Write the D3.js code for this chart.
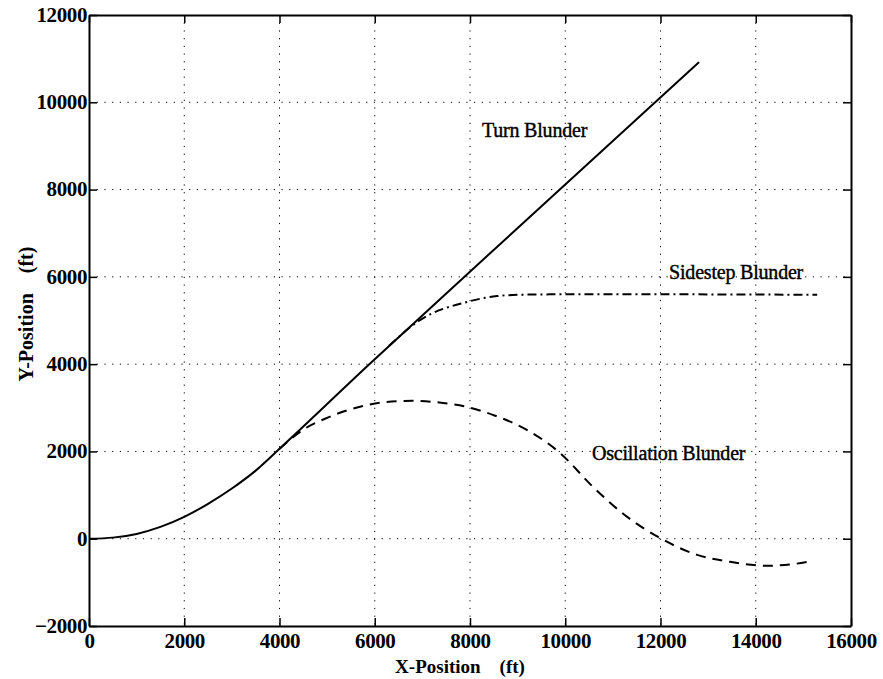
<!DOCTYPE html>
<html>
<head>
<meta charset="utf-8">
<script src="https://cdn.jsdelivr.net/npm/d3@7"></script>
<style>
  body { margin: 0; background: #fff; }
  svg { display: block; }
  text { font-family: "Liberation Serif", "Times New Roman", serif; fill: #000; }
</style>
</head>
<body>
<div id="vis"></div>
<script>
// trajectories (ft)
const turnX = [0, 500, 1000, 1500, 2000, 2500, 3000, 3500, 4000, 5880, 7850, 12810];
const turnY = [0, 25, 110, 270, 500, 800, 1150, 1560, 2060, 3990, 5970, 10920];

const sideX = [6300, 6950, 7935, 8565, 9050, 10000, 12000, 14000, 15290];
const sideY = [4420, 5010, 5425, 5560, 5590, 5600, 5600, 5595, 5590];

const oscX = [4000, 4500, 5000, 5750, 6200, 6800, 7435, 7935, 8500, 9200, 9890, 10580, 11300, 11950, 12770, 13460, 14235, 14720, 15100];
const oscY = [2060, 2500, 2770, 3040, 3130, 3160, 3110, 3020, 2830, 2490, 1965, 1190, 500, 40, -370, -530, -620, -590, -530];

const xTicks = [0, 2000, 4000, 6000, 8000, 10000, 12000, 14000, 16000];
const yTicks = [-2000, 0, 2000, 4000, 6000, 8000, 10000, 12000];

const labels = [
  { text: "Turn Blunder", x: 8250, y: 9200 },
  { text: "Sidestep Blunder", x: 12180, y: 5950 },
  { text: "Oscillation Blunder", x: 10560, y: 1800 }
];

const width = 883, height = 679;
const margin = { top: 15, right: 32, bottom: 53, left: 89 };

const svg = d3.select("#vis").append("svg")
  .attr("width", width)
  .attr("height", height);

const x = d3.scaleLinear().domain([0, 16000]).range([margin.left, width - margin.right]);
const y = d3.scaleLinear().domain([-2000, 12000]).range([height - margin.bottom, margin.top]);

// dotted grid
const grid = svg.append("g");
grid.selectAll(".gx").data(xTicks.slice(1, -1)).enter().append("line")
  .attr("x1", d => x(d)).attr("x2", d => x(d))
  .attr("y1", y(12000)).attr("y2", y(-2000))
  .attr("stroke", "#000").attr("stroke-width", 1)
  .attr("stroke-dasharray", "1.2,6.5");
grid.selectAll(".gy").data(yTicks.slice(1, -1)).enter().append("line")
  .attr("x1", x(0)).attr("x2", x(16000))
  .attr("y1", d => y(d)).attr("y2", d => y(d))
  .attr("stroke", "#000").attr("stroke-width", 1)
  .attr("stroke-dasharray", "1.2,6.5");

// axes with inward ticks on all sides
const tickLen = 8;
svg.append("g")
  .attr("transform", `translate(0,${y(-2000)})`)
  .call(d3.axisBottom(x).tickValues(xTicks).tickSizeInner(-tickLen).tickSizeOuter(0).tickPadding(8).tickFormat(d3.format("d")))
  .call(g => g.selectAll("text").attr("font-size", 21).attr("font-weight", "bold").attr("letter-spacing", -0.4).attr("dy", "0.68em"));
svg.append("g")
  .attr("transform", `translate(0,${y(12000)})`)
  .call(d3.axisTop(x).tickValues(xTicks).tickSizeInner(-tickLen).tickSizeOuter(0).tickFormat(""));
svg.append("g")
  .attr("transform", `translate(${x(0)},0)`)
  .call(d3.axisLeft(y).tickValues(yTicks).tickSizeInner(-tickLen).tickSizeOuter(0).tickPadding(2).tickFormat(d3.format("d")))
  .call(g => g.selectAll("text").attr("font-size", 21).attr("font-weight", "bold").attr("letter-spacing", -0.4).attr("dy", "0.3em"));
svg.append("g")
  .attr("transform", `translate(${x(16000)},0)`)
  .call(d3.axisRight(y).tickValues(yTicks).tickSizeInner(-tickLen).tickSizeOuter(0).tickFormat(""));

svg.selectAll(".domain").attr("stroke", "#000").attr("stroke-width", 2);
svg.selectAll(".tick line").attr("stroke", "#000").attr("stroke-width", 1.5);
svg.selectAll(".tick text").attr("fill", "#000");

// trajectories
const line = d3.line().x(d => x(d[0])).y(d => y(d[1])).curve(d3.curveMonotoneX);
const series = [
  { xs: turnX, ys: turnY, dash: null },
  { xs: sideX, ys: sideY, dash: "9,4,2,4" },
  { xs: oscX, ys: oscY, dash: "10,7" }
];
svg.selectAll(".traj").data(series).enter().append("path")
  .attr("class", "traj")
  .attr("d", s => line(s.xs.map((v, i) => [v, s.ys[i]])))
  .attr("fill", "none")
  .attr("stroke", "#000")
  .attr("stroke-width", 2)
  .attr("stroke-dasharray", s => s.dash);

// annotations
svg.selectAll(".lab").data(labels).enter().append("text")
  .attr("x", d => x(d.x)).attr("y", d => y(d.y))
  .attr("font-size", 20)
  .attr("letter-spacing", -0.2)
  .attr("stroke", "#000").attr("stroke-width", 0.4)
  .text(d => d.text);

// axis titles
svg.append("text")
  .attr("x", 460).attr("y", 673)
  .attr("text-anchor", "middle")
  .attr("font-size", 19).attr("font-weight", "bold")
  .style("white-space", "pre")
  .text("X-Position    (ft)");
svg.append("text")
  .attr("transform", `translate(33,${314}) rotate(-90)`)
  .attr("text-anchor", "middle")
  .attr("font-size", 20).attr("font-weight", "bold")
  .style("white-space", "pre")
  .text("Y-Position    (ft)");
</script>
</body>
</html>
